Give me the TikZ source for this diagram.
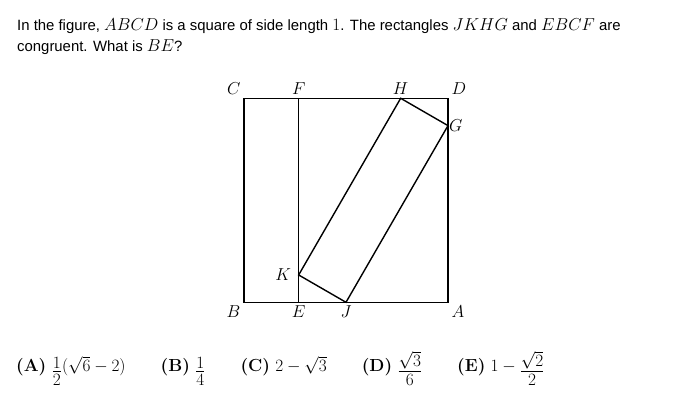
\documentclass[tikz,border=0pt]{standalone}
\usepackage{fontspec}
\newfontfamily\qfont{Liberation Sans}
\usetikzlibrary{positioning}
\newcommand\mth[1]{{\fontsize{17.5}{21}\selectfont$#1$}}
% fraction with full-size parts, bar sitting on the baseline
\newcommand\cfr[2]{\mathord{\kern1.2pt\lower14.4pt\vbox{\offinterlineskip
  \halign{\hfil$##$\hfil\cr#1\cr\noalign{\kern2.6pt\hrule height0.7pt\kern2.6pt}#2\cr}}\kern1.2pt}}

\begin{document}
\begin{tikzpicture}[x=1pt,y=1pt,
    qtext/.style={anchor=base west,inner sep=0pt,font=\qfont\fontsize{14.9}{21}\selectfont},
    lbl/.style={font=\fontsize{17.5}{21}\selectfont},
    edge/.style={line width=1.4pt,line join=miter}]
  \useasboundingbox (0,0) rectangle (693,401);
  \node[qtext] (q1) at (17,370) {In the figure, \mth{ABCD} is a square of side length \mth{1}. The rectangles \mth{JKHG} and \mth{EBCF} are};
  \node[qtext] (q2) at (17,349.3) {congruent. What is \mth{BE}?};
  \begin{scope}[shift={(244,98.7)},x=204pt,y=204pt]
    \pgfmathsetmacro\be{2-sqrt(3)}
    \coordinate (B) at (0,0);
    \coordinate (A) at (1,0);
    \coordinate (D) at (1,1);
    \coordinate (C) at (0,1);
    \coordinate (E) at (\be,0);
    \coordinate (F) at (\be,1);
    \coordinate (J) at (0.5,0);
    \coordinate (K) at (\be,\be/2);
    \coordinate (G) at (1,{sqrt(3)/2});
    \coordinate (H) at ({1-\be*sqrt(3)/2},1);
  \end{scope}
  \draw[edge] (B) -- (A) -- (D) -- (C) -- cycle;
  \draw[edge] (E) -- (F);
  \draw[edge] (J) -- (K) -- (H) -- (G) -- cycle;
  \node[lbl,above left] (lC) at (C) {$C$};
  \node[lbl,above] (lF) at (F) {$F$};
  \node[lbl,above] (lH) at (H) {$H$};
  \node[lbl,above right] (lD) at (D) {$D$};
  \node[lbl,right=-2.5pt] (lG) at (G) {$G$};
  \node[lbl,left=4pt] (lK) at (K) {$K$};
  \node[lbl,below left] (lB) at (B) {$B$};
  \node[lbl,below] (lE) at (E) {$E$};
  \node[lbl,below] (lJ) at (J) {$J$};
  \node[lbl,below right] (lA) at (A) {$A$};
  \node[lbl,anchor=base west,inner sep=0pt] (ans) at (16,29.5)
    {\textbf{(A)} $\cfr12(\sqrt6-2)$\qquad
     \textbf{(B)} $\cfr14$\qquad
     \textbf{(C)} $2-\sqrt3$\qquad
     \textbf{(D)} $\cfr{\sqrt3}6$\qquad
     \textbf{(E)} $1-\cfr{\sqrt2}2$};
\end{tikzpicture}
\end{document}
